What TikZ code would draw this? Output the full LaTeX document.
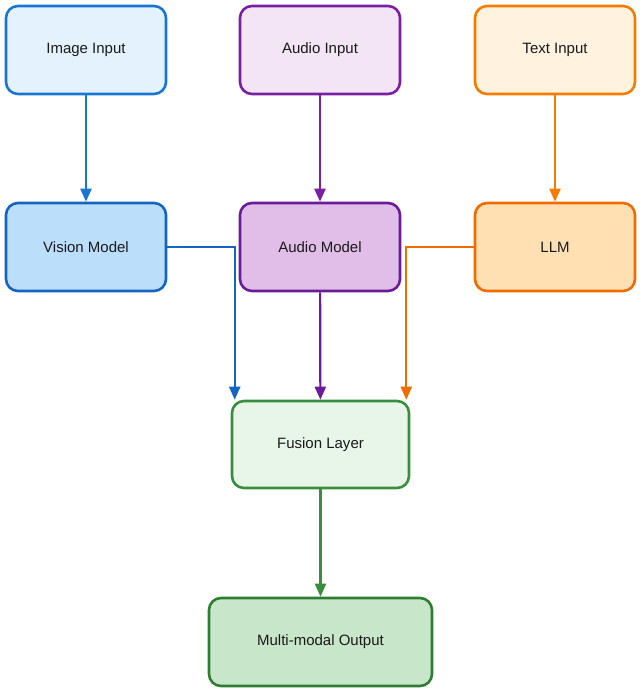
\documentclass[tikz,border=0pt]{standalone}
\usepackage{fontspec}
\setmainfont{Liberation Sans}
\usetikzlibrary{arrows.meta,positioning}
\definecolor{imgfill}{HTML}{E3F2FD}\definecolor{imgdraw}{HTML}{1976D2}
\definecolor{visfill}{HTML}{BBDEFB}\definecolor{visdraw}{HTML}{1565C0}
\definecolor{audfill}{HTML}{F3E5F5}\definecolor{auddraw}{HTML}{7B1FA2}
\definecolor{amfill}{HTML}{E1BEE7}\definecolor{amdraw}{HTML}{6A1B9A}
\definecolor{txtfill}{HTML}{FFF3E0}\definecolor{txtdraw}{HTML}{F57C00}
\definecolor{llmfill}{HTML}{FFE0B2}\definecolor{llmdraw}{HTML}{EF6C00}
\definecolor{fusfill}{HTML}{E8F5E9}\definecolor{fusdraw}{HTML}{388E3C}
\definecolor{outfill}{HTML}{C8E6C9}\definecolor{outdraw}{HTML}{2E7D32}
\definecolor{txt}{HTML}{1A1A1A}
\begin{document}
\begin{tikzpicture}[x=1pt,y=-1pt,
  box/.style={rounded corners=12pt, line width=2.6pt, minimum width=160pt, minimum height=88pt,
    inner sep=0pt, align=center, text=txt, font=\fontsize{15}{18}\selectfont},
  conn/.style={line width=2.2pt, -{Triangle[width=11pt,length=13pt]}}]
\useasboundingbox (0,0) rectangle (642,692);
\node[box, fill=imgfill, draw=imgdraw] (img) at (86,50) {Image Input};
\node[box, fill=audfill, draw=auddraw] (aud) at (320,50) {Audio Input};
\node[box, fill=txtfill, draw=txtdraw] (txtin) at (555,50) {Text Input};
\node[box, fill=visfill, draw=visdraw] (vis) at (86,247) {Vision Model};
\node[box, fill=amfill, draw=amdraw] (am) at (320,247) {Audio Model};
\node[box, fill=llmfill, draw=llmdraw] (llm) at (555,247) {LLM};
\node[box, fill=fusfill, draw=fusdraw, minimum width=177pt, minimum height=87pt] (fus) at (320.5,444.5) {Fusion Layer};
\node[box, fill=outfill, draw=outdraw, minimum width=223pt] (out) at (320.5,642) {Multi-modal Output};
\draw[conn, imgdraw] (img) -- (vis);
\draw[conn, auddraw] (aud) -- (am);
\draw[conn, txtdraw] (txtin) -- (llm);
\draw[conn, visdraw] (vis.east) -| ([xshift=4pt]fus.north west);
\draw[conn, amdraw] (am) -- (fus);
\draw[conn, llmdraw] (llm.west) -| ([xshift=-4pt]fus.north east);
\draw[conn, fusdraw] (fus) -- (out);
\end{tikzpicture}
\end{document}
